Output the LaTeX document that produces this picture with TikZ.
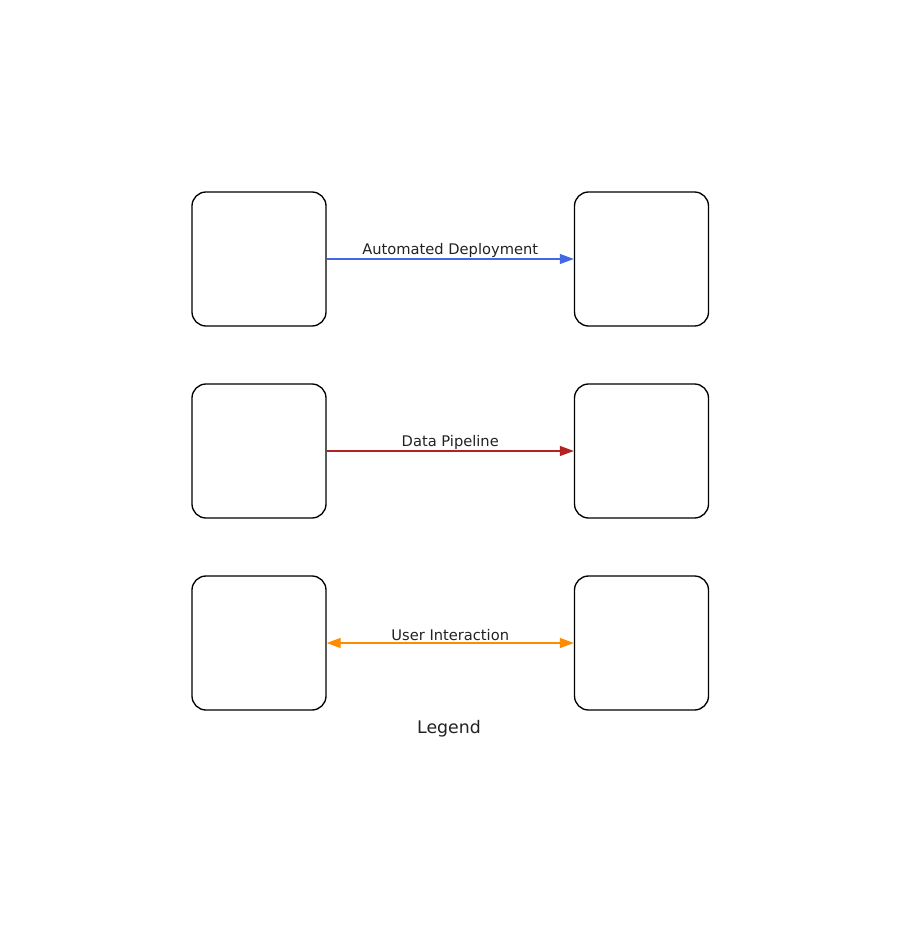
\documentclass[tikz,border=0pt]{standalone}
\usepackage{fontspec}
\setmainfont{DejaVu Sans}
\usetikzlibrary{arrows.meta}
\definecolor{txt}{HTML}{222222}
\definecolor{cblue}{HTML}{4169E1}
\definecolor{cred}{HTML}{B22222}
\definecolor{corange}{HTML}{FF8C00}
\begin{document}
\begin{tikzpicture}[x=0.75pt,y=-0.75pt,
  boxnode/.style={draw=black,line width=1pt,rounded corners=10.5pt,minimum width=100.5pt,minimum height=100.5pt,inner sep=0pt},
  lbl/.style={font=\fontsize{11pt}{13pt}\selectfont,text=txt,inner sep=1pt},
  conn/.style={line width=0.9pt,-{Triangle[length=10.5pt,width=7.5pt]}},
  bconn/.style={line width=0.9pt,{Triangle[length=10.5pt,width=7.5pt]}-{Triangle[length=10.5pt,width=7.5pt]}}]
\useasboundingbox (0,0) rectangle (901,937);
\node[boxnode] (a1) at (259,259) {};
\node[boxnode] (a2) at (641.5,259) {};
\node[boxnode] (b1) at (259,451) {};
\node[boxnode] (b2) at (641.5,451) {};
\node[boxnode] (c1) at (259,643) {};
\node[boxnode] (c2) at (641.5,643) {};
\draw[conn,cblue] (a1) -- node[lbl,above=0pt]{Automated Deployment} (a2);
\draw[conn,cred] (b1) -- node[lbl,above=0pt]{Data Pipeline} (b2);
\draw[bconn,corange] (c1) -- node[lbl,above=0pt]{User Interaction} (c2);
\node[font=\fontsize{13pt}{15pt}\selectfont,text=txt] (legend) at (449,729) {Legend};
\end{tikzpicture}
\end{document}
